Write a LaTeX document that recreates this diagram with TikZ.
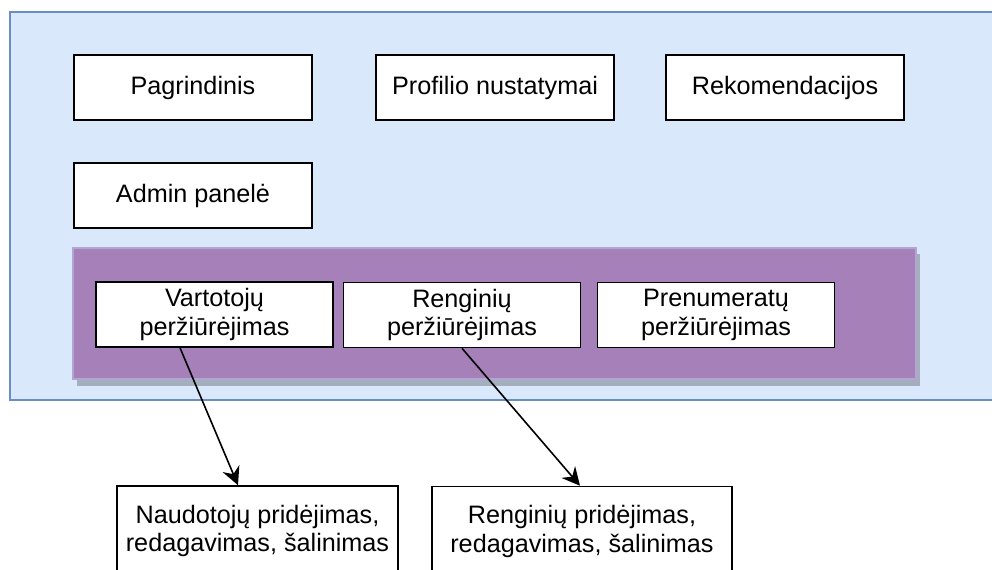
\documentclass[tikz,border=0pt]{standalone}
\usepackage{fontspec}
\setmainfont{Liberation Sans}
\usetikzlibrary{arrows.meta,calc}
\definecolor{bgfill}{HTML}{DAE8FC}
\definecolor{bgline}{HTML}{6C8EBF}
\definecolor{purfill}{HTML}{A680B8}
\definecolor{purline}{HTML}{B4A4D4}
\definecolor{shadowc}{HTML}{A4AEBD}
\tikzset{
  box/.style={draw=black, fill=white, line width=0.8pt, inner sep=0pt, align=center,
    font=\fontsize{12.6}{14.2}\selectfont, minimum height=32.5pt},
  wbox/.style={box, minimum width=119pt},
  ibox/.style={box, minimum width=118.5pt},
  conn/.style={draw=black, line width=0.8pt, -{Stealth[length=9pt,width=9pt,inset=3pt]}}
}
\begin{document}
\begin{tikzpicture}[x=0.5pt,y=-0.5pt]
\useasboundingbox (0,0) rectangle (992,569);
\clip (0,0) rectangle (992,569);
% background container
\draw[fill=bgfill, draw=bgline, line width=0.9pt] (10,12) rectangle (1010,400);
% top boxes
\node[wbox] (pag) at (193,87.5) {Pagrindinis};
\node[wbox] (prof) at (495,87.5) {Profilio nustatymai};
\node[wbox] (rek) at (785,87.5) {Rekomendacijos};
\node[wbox] (adm) at (193,195.5) {Admin panelė};
% purple admin panel with shadow
\fill[shadowc] (77,254) rectangle (920,386);
\draw[fill=purfill, draw=purline, line width=0.6pt] (73,248) rectangle (916,379);
% inner boxes
\node[ibox] (vart) at (214.5,314.5) {Vartotojų\\peržiūrėjimas};
\node[ibox] (reng) at (462,315) {Renginių\\peržiūrėjimas};
\node[ibox] (pren) at (716,315) {Prenumeratų\\peržiūrėjimas};
% bottom boxes
\node[box, minimum width=140.5pt, minimum height=45pt] (naud) at (257.5,531) {Naudotojų pridėjimas,\\redagavimas, šalinimas};
\node[box, minimum width=150pt, minimum height=45pt] (rengb) at (582,531.5) {Renginių pridėjimas,\\redagavimas, šalinimas};
% connectors
\draw[conn] ([xshift=-17.25pt]vart.south) -- ([xshift=-9.75pt]naud.north);
\draw[conn] (reng.south) -- ([xshift=-1pt]rengb.north);
\end{tikzpicture}
\end{document}
